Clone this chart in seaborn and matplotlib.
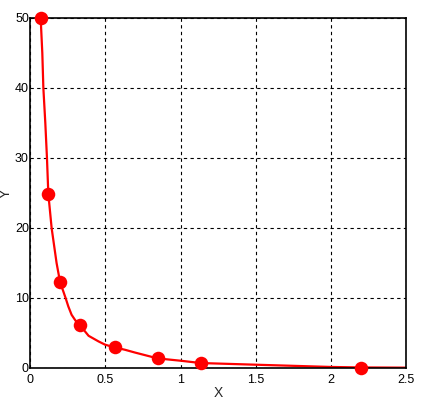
import matplotlib
matplotlib.use("Agg")
import matplotlib.pyplot as plt
import pandas as pd
import seaborn as sns

# measured points (markers)
point_x = [0.069, 0.120, 0.198, 0.331, 0.562, 0.848, 1.134, 2.198]
point_y = [50.0, 24.9, 12.3, 6.1, 2.94, 1.37, 0.71, 0.0]

# fitted curve
curve_x = [0.069, 0.080, 0.087, 0.100, 0.111, 0.120, 0.142, 0.175, 0.198,
           0.235, 0.253, 0.275, 0.300, 0.331, 0.388, 0.454, 0.498, 0.562, 0.631,
           0.698, 0.848, 1.0, 1.134, 1.5, 2.0, 2.198, 2.5]
curve_y = [50.0, 45.0, 40.0, 35.0, 30.0, 24.9, 20.0, 15.0, 12.3,
           10.0, 8.8, 7.6, 6.8, 6.1, 4.6, 3.8, 3.33, 2.94, 2.6,
           2.2, 1.37, 1.04, 0.71, 0.47, 0.15, 0.08, 0.05]

x_ticks = [0, 0.5, 1, 1.5, 2, 2.5]
x_tick_labels = ["0", "0.5", "1", "1.5", "2", "2.5"]
y_ticks = [0, 10, 20, 30, 40, 50]


def main():
    sns.set_style("white")
    plt.rcParams['font.family'] = ['Liberation Sans', 'DejaVu Sans']

    curve = pd.DataFrame({"X": curve_x, "Y": curve_y})
    points = pd.DataFrame({"X": point_x, "Y": point_y})

    fig = plt.figure(figsize=(4.23, 4.0), dpi=100)
    ax = fig.add_axes([0.0716, 0.08, 0.888, 0.875])

    sns.lineplot(data=curve, x="X", y="Y", ax=ax, color="#ff0000",
                 linewidth=1.6, sort=False, estimator=None)
    sns.scatterplot(data=points, x="X", y="Y", ax=ax, color="#ff0000",
                    s=95, edgecolor="#ff0000", linewidth=0, zorder=5)
    for c in ax.collections:
        c.set_clip_on(False)

    ax.set_xlim(0, 2.5)
    ax.set_ylim(0, 50)
    ax.set_xticks(x_ticks)
    ax.set_xticklabels(x_tick_labels)
    ax.set_yticks(y_ticks)
    ax.grid(True, color="black", linestyle=(0, (3, 3)), linewidth=0.8)
    ax.set_axisbelow(True)
    for s in ax.spines.values():
        s.set_color("black")
        s.set_linewidth(1.2)
    ax.tick_params(axis="both", length=0, labelsize=9, colors="black")
    ax.tick_params(axis="y", pad=1)
    ax.tick_params(axis="x", pad=4)
    ax.set_xlabel("X", fontsize=10, labelpad=0)
    ax.set_ylabel("Y", fontsize=10, va="center")
    ax.yaxis.set_label_coords(-0.066, 0.5)

    fig.savefig("out.png", dpi=100, facecolor="white")


if __name__ == "__main__":
    main()
